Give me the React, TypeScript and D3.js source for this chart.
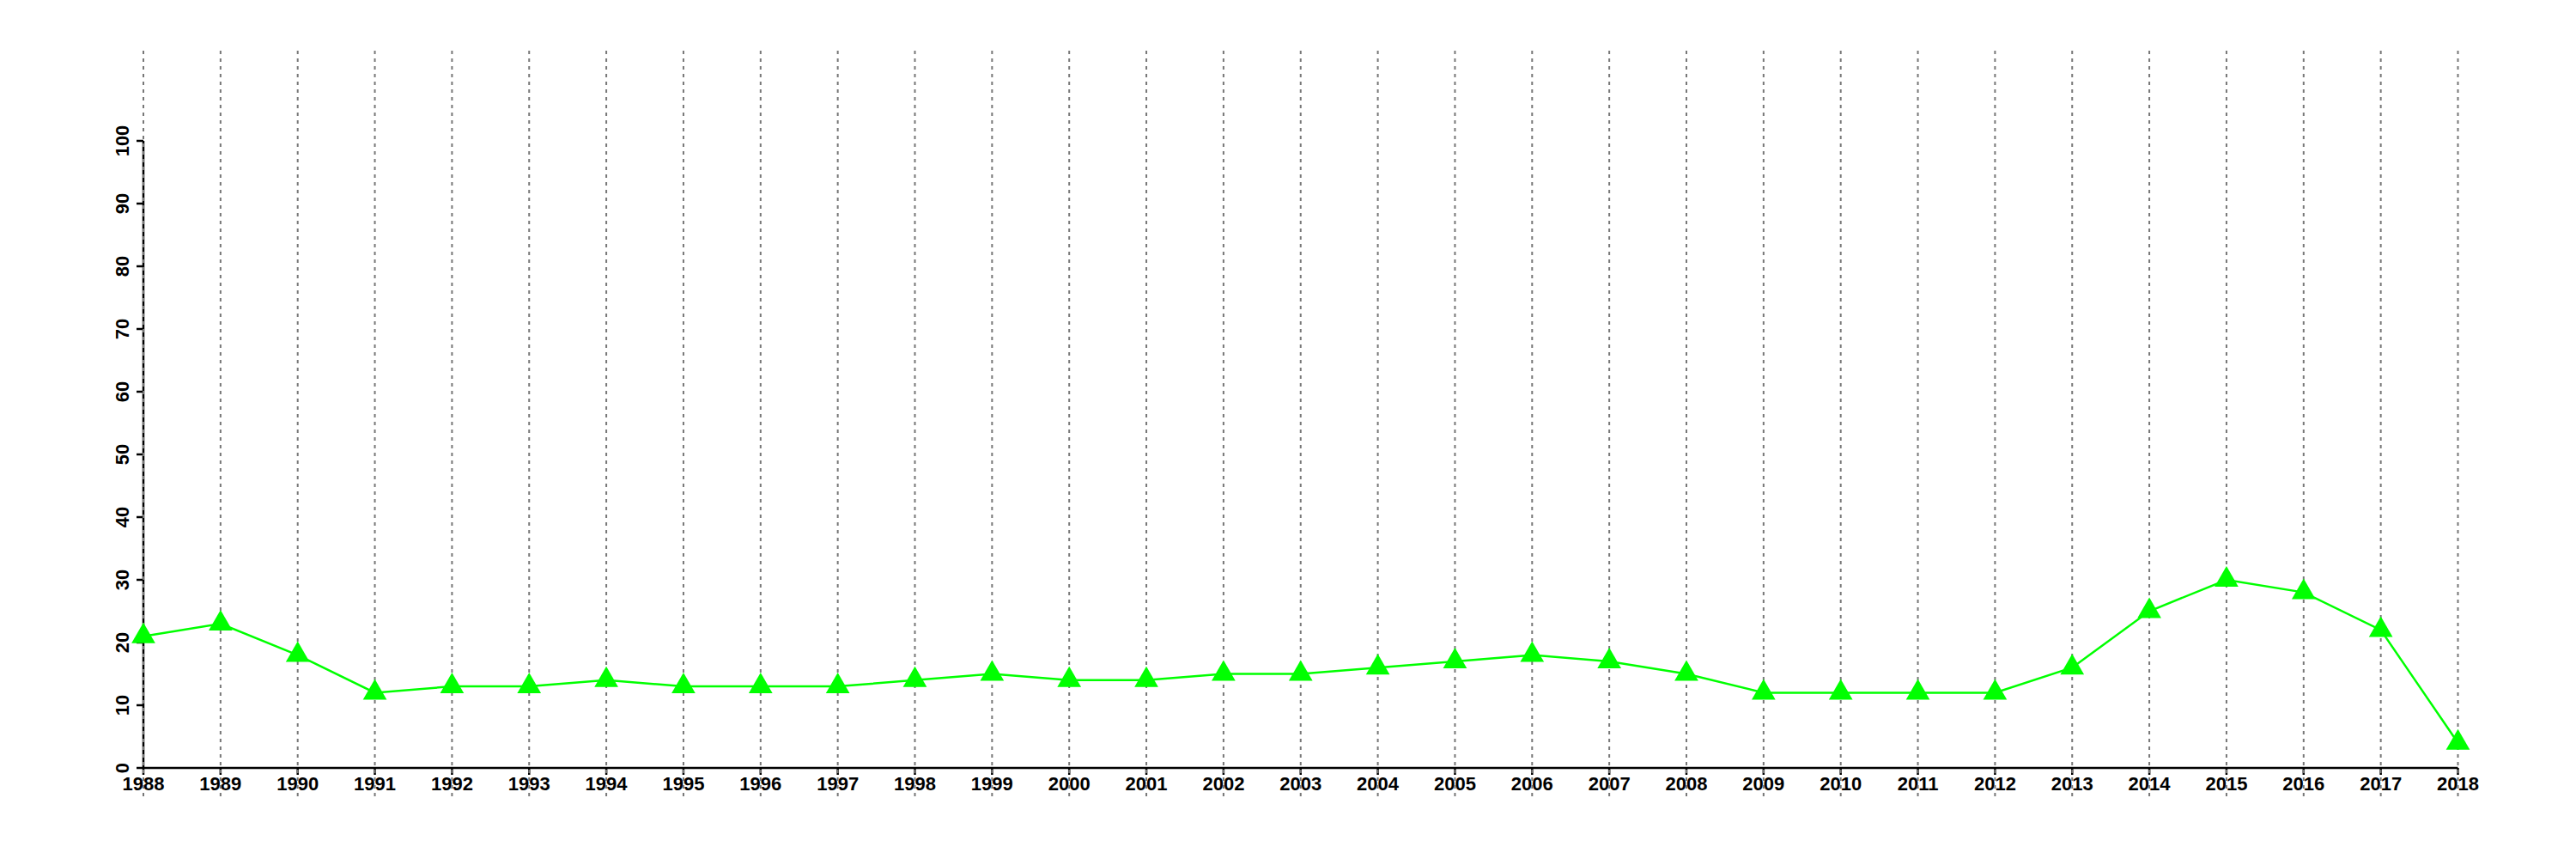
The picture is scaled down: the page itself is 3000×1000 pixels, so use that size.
import React from "react";
import * as d3 from "d3";

const years: number[] = [1988,1989,1990,1991,1992,1993,1994,1995,1996,1997,1998,1999,2000,2001,2002,2003,2004,2005,2006,2007,2008,2009,2010,2011,2012,2013,2014,2015,2016,2017,2018];
const values: number[] = [21,23,18,12,13,13,14,13,13,13,14,15,14,14,15,15,16,17,18,17,15,12,12,12,12,16,25,30,28,22,4];
const yTicks: number[] = [0,10,20,30,40,50,60,70,80,90,100];

export default function App() {
  const W = 3000, H = 1000;
  const x = d3.scaleLinear().domain([1988, 2018]).range([167, 2862.5]);
  const y = d3.scaleLinear().domain([0, 100]).range([894, 164]);
  const line = d3.line<number>().x((_, i) => x(years[i])).y((d) => y(d));
  const tri = d3.symbol().type(d3.symbolTriangle).size(332)();
  const font = "'Liberation Sans', Arial, Helvetica, sans-serif";
  return (
    <svg width={W} height={H} style={{ position: "absolute", left: 0, top: 0, background: "#fff" }}>
      <rect x={0} y={0} width={W} height={H} fill="#fff" />
      {/* axes */}
      <line x1={167} x2={167} y1={y(100)} y2={y(0)} stroke="#000" strokeWidth={2.5} />
      <line x1={x(1988)} x2={x(2018)} y1={894} y2={894} stroke="#000" strokeWidth={2.5} />
      {yTicks.map((t) => (
        <g key={"yt" + t}>
          <line x1={159} x2={167} y1={y(t)} y2={y(t)} stroke="#000" strokeWidth={2.5} />
          <text
            transform={`translate(150,${y(t)}) rotate(-90)`}
            textAnchor="middle"
            fontFamily={font}
            fontWeight="bold"
            fontSize={22}
            fill="#000"
          >
            {t}
          </text>
        </g>
      ))}
      {years.map((yr) => (
        <g key={"xt" + yr}>
          <line x1={x(yr)} x2={x(yr)} y1={894} y2={902} stroke="#000" strokeWidth={2.5} />
          <text x={x(yr)} y={920} textAnchor="middle" fontFamily={font} fontWeight="bold" fontSize={22} fill="#000">
            {yr}
          </text>
        </g>
      ))}
      {/* grid */}
      {years.map((yr) => (
        <line
          key={"g" + yr}
          x1={x(yr)}
          x2={x(yr)}
          y1={59}
          y2={927}
          stroke="#777"
          strokeWidth={2}
          strokeDasharray="4,5"
        />
      ))}
      {/* series */}
      <path d={line(values) || ""} fill="none" stroke="#00ff00" strokeWidth={2.5} />
      {values.map((v, i) => (
        <path key={"p" + i} d={tri || ""} transform={`translate(${x(years[i])},${y(v)})`} fill="#00ff00" />
      ))}
    </svg>
  );
}
